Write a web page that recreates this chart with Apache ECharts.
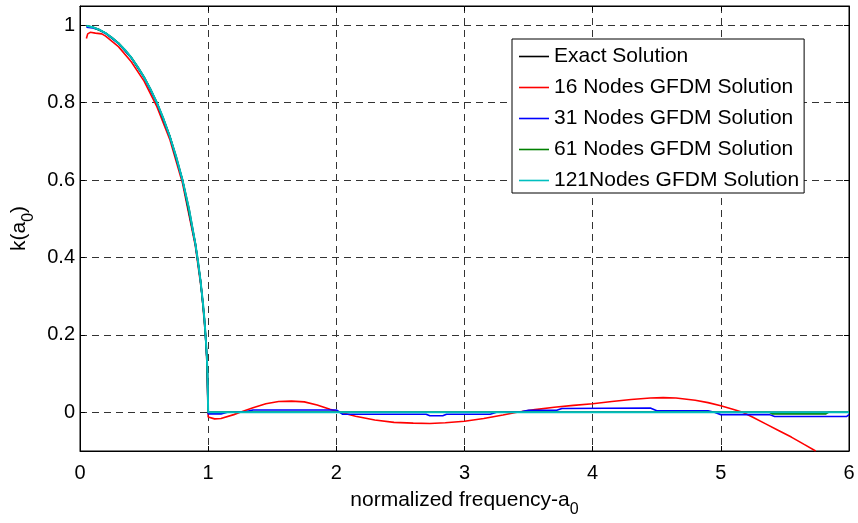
<!DOCTYPE html>
<html><head><meta charset="utf-8">
<script src="https://cdn.jsdelivr.net/npm/echarts@6/dist/echarts.min.js"></script>
<style>html,body{margin:0;padding:0;background:#fff}#c{width:858px;height:523px}</style>
</head><body><div id="c"></div>
<script>
// ---- data ----
const seriesNames = ['Exact Solution', '16 Nodes GFDM Solution', '31 Nodes GFDM Solution', '61 Nodes GFDM Solution', '121Nodes GFDM Solution'];
const xTicks = [0, 1, 2, 3, 4, 5, 6];
const yTicks = [0, 0.2, 0.4, 0.6, 0.8, 1];

const exactA0 = [0.05, 0.1, 0.15, 0.2, 0.25, 0.3, 0.35, 0.4, 0.45, 0.5, 0.55, 0.6, 0.65, 0.7, 0.75, 0.8, 0.85, 0.9, 0.92, 0.94, 0.96, 0.97, 0.98, 0.99, 0.995, 1.0, 1.0, 6.0];
const exactK  = [0.999, 0.995, 0.989, 0.980, 0.968, 0.954, 0.937, 0.917, 0.893, 0.866, 0.835, 0.800, 0.760, 0.714, 0.661, 0.600, 0.527, 0.436, 0.392, 0.341, 0.280, 0.243, 0.199, 0.141, 0.100, 0.0, 0.0, 0.0];

const n16A0 = [0.05, 0.06, 0.08, 0.12, 0.17, 0.2, 0.3, 0.4, 0.5, 0.6, 0.7, 0.8, 0.9, 0.95, 0.98, 0.99, 1.0, 1.05, 1.1, 1.2, 1.25, 1.35, 1.45, 1.55, 1.65, 1.75, 1.85, 1.95, 2.03, 2.15, 2.3, 2.45, 2.6, 2.73, 2.85, 3.0, 3.15, 3.3, 3.41, 3.55, 3.7, 3.85, 4.0, 4.15, 4.3, 4.45, 4.55, 4.65, 4.8, 4.9, 5.0, 5.1, 5.17, 5.25, 5.35, 5.45, 5.55, 5.65, 5.74];
const n16K  = [0.966, 0.978, 0.982, 0.980, 0.978, 0.972, 0.945, 0.906, 0.856, 0.790, 0.706, 0.592, 0.430, 0.310, 0.195, 0.130, -0.012, -0.017, -0.016, -0.006, 0.0, 0.012, 0.022, 0.028, 0.029, 0.027, 0.019, 0.008, 0.0, -0.010, -0.020, -0.026, -0.028, -0.029, -0.027, -0.023, -0.016, -0.007, 0.0, 0.007, 0.013, 0.018, 0.022, 0.028, 0.033, 0.037, 0.038, 0.037, 0.031, 0.025, 0.017, 0.007, 0.0, -0.013, -0.030, -0.047, -0.064, -0.083, -0.100];

const n31A0 = [0.05, 0.1, 0.15, 0.2, 0.3, 0.4, 0.5, 0.6, 0.7, 0.8, 0.9, 0.94, 0.97, 0.99, 1.0, 1.1, 1.15, 1.3, 1.35, 2.0, 2.05, 2.7, 2.73, 2.83, 2.86, 3.2, 3.25, 3.45, 3.5, 3.72, 3.76, 4.45, 4.5, 4.9, 4.95, 5.0, 5.38, 5.42, 5.98, 6.0];
const n31K  = [0.995, 0.993, 0.988, 0.979, 0.953, 0.916, 0.865, 0.799, 0.713, 0.599, 0.435, 0.340, 0.243, 0.140, -0.004, -0.004, 0.0, 0.002, 0.006, 0.006, -0.005, -0.005, -0.009, -0.009, -0.005, -0.005, 0.0, 0.002, 0.005, 0.005, 0.010, 0.011, 0.004, 0.004, 0.0, -0.006, -0.006, -0.011, -0.011, -0.006];

const n61A0 = [0.05, 0.1, 0.2, 0.3, 0.4, 0.5, 0.6, 0.7, 0.8, 0.9, 0.94, 0.97, 0.99, 1.0, 5.38, 5.4, 5.82, 5.84, 6.0];
const n61K  = [0.999, 0.995, 0.980, 0.954, 0.917, 0.866, 0.800, 0.714, 0.600, 0.436, 0.341, 0.243, 0.141, 0.0, 0.0, -0.004, -0.004, 0.0, 0.0];

const n121A0 = [0.05, 0.1, 0.15, 0.2, 0.25, 0.3, 0.35, 0.4, 0.45, 0.5, 0.55, 0.6, 0.65, 0.7, 0.75, 0.8, 0.85, 0.9, 0.92, 0.94, 0.96, 0.97, 0.98, 0.99, 0.995, 1.0, 6.0];
const n121K  = [0.999, 0.995, 0.989, 0.980, 0.968, 0.954, 0.937, 0.917, 0.893, 0.866, 0.835, 0.800, 0.760, 0.714, 0.661, 0.600, 0.527, 0.436, 0.392, 0.341, 0.280, 0.243, 0.199, 0.141, 0.100, 0.0, 0.0];

const colors = ['#000000', '#ff0000', '#0000ff', '#008000', '#00bfbf'];

// ---- chart ----
function pairs(xs, ys) { return xs.map((x, i) => [x, ys[i]]); }
const allData = [pairs(exactA0, exactK), pairs(n16A0, n16K), pairs(n31A0, n31K), pairs(n61A0, n61K), pairs(n121A0, n121K)];

const FONT = 'Liberation Sans';
const chart = echarts.init(document.getElementById('c'), null, {renderer: 'canvas'});
const gridLine = {show: true, lineStyle: {color: '#333', width: 1, type: [7, 5]}};
const option = {
  animation: false,
  backgroundColor: '#fff',
  textStyle: {fontFamily: FONT},
  grid: {left: 80, right: 9, top: 6, bottom: 67, show: true, borderColor: '#000', borderWidth: 1, containLabel: false},
  legend: {
    data: seriesNames,
    orient: 'vertical',
    left: 512, top: 39,
    itemWidth: 30, itemHeight: 14, itemGap: 10,
    padding: [7, 5, 2, 7],
    backgroundColor: '#fff', borderColor: '#000', borderWidth: 1,
    textStyle: {fontSize: 21, color: '#000', fontFamily: FONT},
    icon: 'path://M0,7 L30,7 L30,8.6 L0,8.6 Z',
    selectedMode: false
  },
  xAxis: [{
    type: 'value', min: 0, max: 6, interval: 1,
    axisLine: {show: true, onZero: false, lineStyle: {color: '#000', width: 1}},
    axisTick: {show: true, inside: true, length: 5, lineStyle: {color: '#000'}},
    axisLabel: {fontSize: 20, color: '#000', margin: 12, fontFamily: FONT},
    splitLine: gridLine,
    name: '{a|normalized frequency-a}{s|0}',
    nameLocation: 'middle', nameGap: 36,
    nameTextStyle: {rich: {
      a: {fontSize: 21, color: '#000', fontFamily: FONT, lineHeight: 24, verticalAlign: 'bottom'},
      s: {fontSize: 16, color: '#000', fontFamily: FONT, lineHeight: 24, verticalAlign: 'bottom', padding: [0, 0, -7, 0]}
    }}
  }, {
    type: 'value', min: 0, max: 6, interval: 1, position: 'top',
    axisLine: {show: true, onZero: false, lineStyle: {color: '#000'}},
    axisTick: {show: true, inside: true, length: 5, lineStyle: {color: '#000'}},
    axisLabel: {show: false}, splitLine: {show: false}
  }],
  yAxis: [{
    type: 'value', min: -0.1, max: 1.05,
    axisLine: {show: true, onZero: false, lineStyle: {color: '#000', width: 1}},
    axisTick: {show: true, inside: true, length: 5, lineStyle: {color: '#000'}, customValues: yTicks},
    axisLabel: {fontSize: 20, color: '#000', margin: 5, fontFamily: FONT, customValues: yTicks,
      formatter: v => String(Math.round(v * 10) / 10)},
    splitLine: gridLine,
    name: '{a|k(a}{s|0}{a|)}',
    nameLocation: 'middle', nameGap: 47, nameRotate: 90,
    nameTextStyle: {rich: {
      a: {fontSize: 21, color: '#000', fontFamily: FONT, lineHeight: 24, verticalAlign: 'bottom'},
      s: {fontSize: 16, color: '#000', fontFamily: FONT, lineHeight: 24, verticalAlign: 'bottom', padding: [0, 0, -7, 0]}
    }}
  }, {
    type: 'value', min: -0.1, max: 1.05, position: 'right',
    axisLine: {show: true, onZero: false, lineStyle: {color: '#000'}},
    axisTick: {show: true, inside: true, length: 5, lineStyle: {color: '#000'}, customValues: yTicks},
    axisLabel: {show: false}, splitLine: {show: false}
  }],
  series: seriesNames.map((n, i) => ({
    name: n, type: 'line', data: allData[i],
    xAxisIndex: 0, yAxisIndex: 0,
    showSymbol: false, symbol: 'none', smooth: false,
    color: colors[i],
    lineStyle: {color: colors[i], width: i === 4 ? 2 : 1.6},
    z: 2 + i
  }))
};
chart.setOption(option);
</script>
</body></html>
